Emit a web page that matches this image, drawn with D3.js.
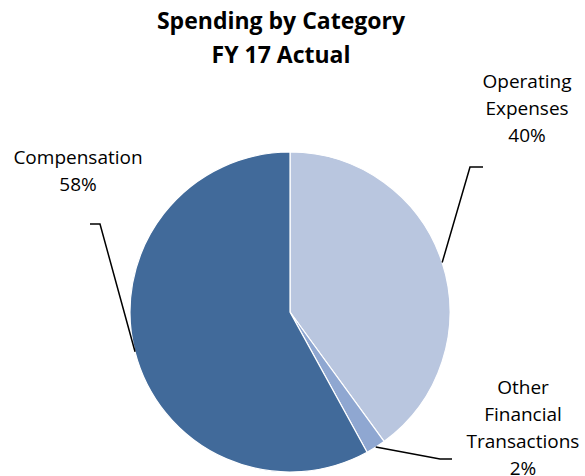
<!DOCTYPE html>
<html>
<head>
<meta charset="utf-8">
<script src="https://cdn.jsdelivr.net/npm/d3@7"></script>
<style>
  html, body { margin: 0; padding: 0; background: #fff; }
  svg text { font-family: "Open Sans", "Noto Sans", sans-serif; fill: #000; }
</style>
</head>
<body>
<svg id="chart"></svg>
<script>
var width = 585;
var height = 476;

// ---- data ----
const categories = ["Operating Expenses", "Other Financial Transactions", "Compensation"];
const shares = [40, 2, 58];
const labelLines = [["Operating", "Expenses"], ["Other", "Financial", "Transactions"], ["Compensation"]];
const colors = ["#b9c6df", "#8fa7d1", "#416a9a"];
const titleLines = ["Spending by Category", "FY 17 Actual"];

// ---- layout ----
var cx = 290, cy = 312, radius = 160;
var lineH = 27;
// label block: center x, first baseline y, elbow point of leader, end of horizontal bit
var labelLayout = [
  { x: 527, y: 88, elbow: [470, 167], tail: [483, 167] },
  { x: 523, y: 394, elbow: [440, 459], tail: [452, 459] },
  { x: 78, y: 164, elbow: [100, 224], tail: [90, 224] }
];

const svg = d3.select("#chart").attr("width", width).attr("height", height);

// ---- title ----
svg.append("g").selectAll("text")
  .data(titleLines)
  .join("text")
  .attr("x", 281)
  .attr("y", (d, i) => 29 + i * 34)
  .attr("text-anchor", "middle")
  .style("font-size", "23px")
  .style("font-weight", "bold")
  .text(d => d);

// ---- pie ----
const pie = d3.pie().sort(null).value(d => d.value);
const arcs = pie(categories.map((c, i) => ({ name: c, value: shares[i], idx: i })));
const arc = d3.arc().innerRadius(0).outerRadius(radius);

const g = svg.append("g").attr("transform", "translate(" + cx + "," + cy + ")");
g.selectAll("path")
  .data(arcs)
  .join("path")
  .attr("d", arc)
  .attr("fill", d => colors[d.data.idx])
  .attr("stroke", "#fff")
  .attr("stroke-width", 1.2);

// ---- leader lines + labels ----
arcs.forEach(function(d, i) {
  var lay = labelLayout[i];
  var mid = (d.startAngle + d.endAngle) / 2;
  var px = cx + radius * Math.sin(mid);
  var py = cy - radius * Math.cos(mid);
  svg.append("polyline")
    .attr("points", [[px, py], lay.elbow, lay.tail].map(p => p.join(",")).join(" "))
    .attr("fill", "none")
    .attr("stroke", "#000")
    .attr("stroke-width", 1.5);

  var lines = labelLines[i].concat([d.data.value + "%"]);
  svg.append("g").selectAll("text")
    .data(lines)
    .join("text")
    .attr("x", lay.x)
    .attr("y", (t, j) => lay.y + j * lineH)
    .attr("text-anchor", "middle")
    .style("font-size", "19px")
    .text(t => t);
});
</script>
</body>
</html>
